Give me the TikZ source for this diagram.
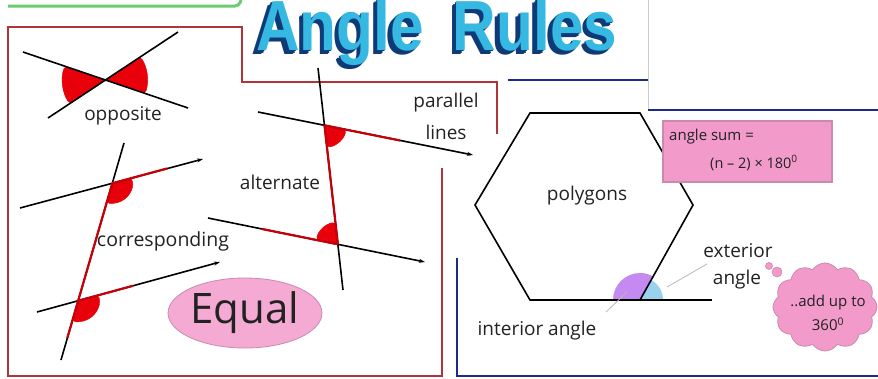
\documentclass[tikz,border=0pt]{standalone}
\usepackage{fontspec}
\setmainfont{Open Sans}
\newfontfamily\titlefont{Liberation Sans}
\usetikzlibrary{shapes.symbols,shapes.geometric,arrows.meta}
\definecolor{angred}{HTML}{E8000A}
\definecolor{bordred}{HTML}{B0343A}
\definecolor{bordblue}{HTML}{1C2A8C}
\definecolor{pinkf}{HTML}{F29BCB}
\definecolor{pinkd}{HTML}{C98AAE}
\definecolor{purp}{HTML}{C58AF2}
\definecolor{lblue}{HTML}{9AD2EE}
\definecolor{navy}{HTML}{0E3A78}
\definecolor{cyanf}{HTML}{35B8E2}
\definecolor{txt}{HTML}{222222}
\definecolor{greenl}{HTML}{6CCB6C}
\begin{document}
\begin{tikzpicture}[x=1pt,y=-1pt,
  lbl/.style={font=\fontsize{19}{19}\selectfont, text=txt, inner sep=0pt},
  small/.style={font=\fontsize{15}{15}\selectfont, text=txt, inner sep=0pt},
  ttl/.style={font=\titlefont\bfseries\fontsize{71}{71}\selectfont, xscale=0.85, anchor=base, inner sep=0pt},
  ln/.style={line width=1.6pt, black},
  redln/.style={line width=2.2pt, angred!85!black},
  blob/.style={fill=angred, draw=angred, rounded corners=3pt},
  arr/.style={-{Stealth[length=6pt,width=4pt]}},
  border/.style={line width=2.5pt},
  leader/.style={line width=0.8pt, gray!55}]
\useasboundingbox (0,0) rectangle (878,378);
\fill[white] (0,0) rectangle (878,378);

% ---- frames ----
\draw[greenl, line width=3pt, rounded corners=4pt] (8,6) -- (239,6) -- (241,0);
\draw[bordred, border] (442,168) -- (442,376) -- (8,376) -- (8,27) -- (242,27) -- (242,82) -- (497,82) -- (497,134);
\draw[bordblue, border] (508,80) -- (648,80);
\draw[gray!40, line width=0.8pt] (648,0) -- (648,110);
\draw[bordblue, line width=2pt] (648,110) -- (878,110);
\draw[bordblue, border] (457,258) -- (457,376) -- (878,376);

% ---- title (3D: navy extrusion under cyan face) ----
\foreach \i in {4.5,3,1.5}{
  \node[ttl, text=navy] at (340-\i,50+\i) {Angle};
  \node[ttl, text=navy] at (535-\i,50+\i) {Rules};
}
\node[ttl, text=cyanf] (title1) at (340,50) {Angle};
\node[ttl, text=cyanf] (title2) at (535,50) {Rules};

% ---- opposite ----
\coordinate (O) at (105.4,80);
\fill[blob] (O) -- ++(146.5:43) arc[start angle=146.5, end angle=198.7, radius=43] -- cycle;
\fill[blob] (O) -- ++(-33.5:42) arc[start angle=-33.5, end angle=18.7, radius=42] -- cycle;
\coordinate (oa1) at (23,52); \coordinate (oa2) at (188,108);
\coordinate (ob1) at (48,118); \coordinate (ob2) at (178,32);
\draw[ln] (oa1) -- (oa2);
\draw[ln] (ob1) -- (ob2);
\node[lbl] (opp) at (123,116) {opposite};

% ---- corresponding ----
\coordinate (T1) at (112.3,183.3);
\coordinate (T2) at (78.2,300.7);
\fill[blob] (T1) -- ++(-15:20) arc[start angle=-15, end angle=106.2, radius=20] -- cycle;
\fill[blob] (T2) -- ++(-15:21) arc[start angle=-15, end angle=106.2, radius=21] -- cycle;
\coordinate (ct1) at (124,143); \coordinate (ct2) at (61,360);
\coordinate (cu1) at (20,208); \coordinate (cu2) at (203,159);
\coordinate (cl1) at (37,312); \coordinate (cl2) at (220,262);
\draw[ln] (ct1) -- (ct2);
\draw[ln, arr] (cu1) -- (cu2);
\draw[ln, arr] (cl1) -- (cl2);
\draw[redln] (T1) -- (67.3,338);
\draw[redln] (T1) -- (167,168.5);
\draw[redln] (T2) -- (133,285.8);
\node[lbl, font=\fontsize{19.5}{19.5}\selectfont] (corr) at (163,241) {corresponding};

% ---- alternate ----
\coordinate (T3) at (324.5,125.3);
\coordinate (T4) at (337.9,244.3);
\fill[blob] (T3) -- ++(11.3:22) arc[start angle=11.3, end angle=83.6, radius=22] -- cycle;
\fill[blob] (T4) -- ++(191.5:22) arc[start angle=191.5, end angle=263.6, radius=22] -- cycle;
\coordinate (at1) at (318,68); \coordinate (at2) at (343,290);
\coordinate (au1) at (258,112); \coordinate (au2) at (473,155);
\coordinate (al1) at (208,218); \coordinate (al2) at (425,262);
\draw[ln] (at1) -- (at2);
\draw[ln, arr] (au1) -- (au2);
\draw[ln, arr] (al1) -- (al2);
\draw[redln] (T3) -- (T4);
\draw[redln] (T3) -- (400,140.5);
\draw[redln] (262,229) -- (T4);
\node[lbl] (alt) at (280,182) {alternate};

\node[lbl] (par) at (446,103) {parallel};
\node[lbl] (lines) at (446,132) {lines};

% ---- Equal ----
\node[ellipse, fill=pinkf!85, draw=pinkd, line width=0.8pt, minimum width=146pt, minimum height=70pt,
      font=\fontsize{42}{42}\selectfont, text=txt, inner sep=0pt] (eq) at (245,313) {Equal};

% ---- polygons ----
\coordinate (h1) at (530,113); \coordinate (h2) at (640,113); \coordinate (h3) at (693,205);
\coordinate (h4) at (640,300); \coordinate (h5) at (530,300); \coordinate (h6) at (475,205);
\coordinate (hx) at (712,300);
\fill[purp] (h4) -- ++(180:27) arc[start angle=180, end angle=299.2, radius=27] -- cycle;
\fill[lblue] (h4) -- ++(-60.8:23) arc[start angle=-60.8, end angle=0, radius=23] -- cycle;
\draw[line width=1.6pt, black, line join=miter] (h1) -- (h2) -- (h3) -- (h4) -- (h5) -- (h6) -- cycle;
\draw[line width=1.6pt, black] (h4) -- (hx);
\node[lbl] (poly) at (587,196) {polygons};
\node[lbl] (ext) at (738,251) {exterior};
\node[lbl] (exta) at (737,280) {angle};
\node[lbl] (inta) at (537,331) {interior angle};
\coordinate (li1) at (606,312); \coordinate (li2) at (627,292);
\coordinate (le1) at (667,287); \coordinate (le2) at (707,264);
\draw[leader] (li1) -- (li2);
\draw[leader] (le1) -- (le2);

% ---- angle sum box ----
\fill[pinkd] (662,120) rectangle (833,183);
\fill[pinkf] (664,122) rectangle (831,181);
\node[small, anchor=west] (sum1) at (669,137) {angle sum =};
\node[small, anchor=west, font=\fontsize{14.5}{14.5}\selectfont] (sum2) at (710,163) {(n – 2) × 180\textsuperscript{0}};

% ---- cloud ----
\node[cloud, cloud puffs=12, cloud puff arc=115, aspect=1.2, fill=pinkf, draw=pinkd, line width=0.8pt,
      minimum width=104pt, minimum height=88pt, inner sep=0pt] (cl) at (825,307) {};
\fill[pinkf, draw=pinkd, line width=0.6pt] (769,266) circle (3.5);
\fill[pinkf, draw=pinkd, line width=0.6pt] (777,272) circle (5);
\node[small, align=center, font=\fontsize{15}{24}\selectfont] (cltxt) at (828,313) {..add up to\\360\textsuperscript{0}};
\end{tikzpicture}
\end{document}
